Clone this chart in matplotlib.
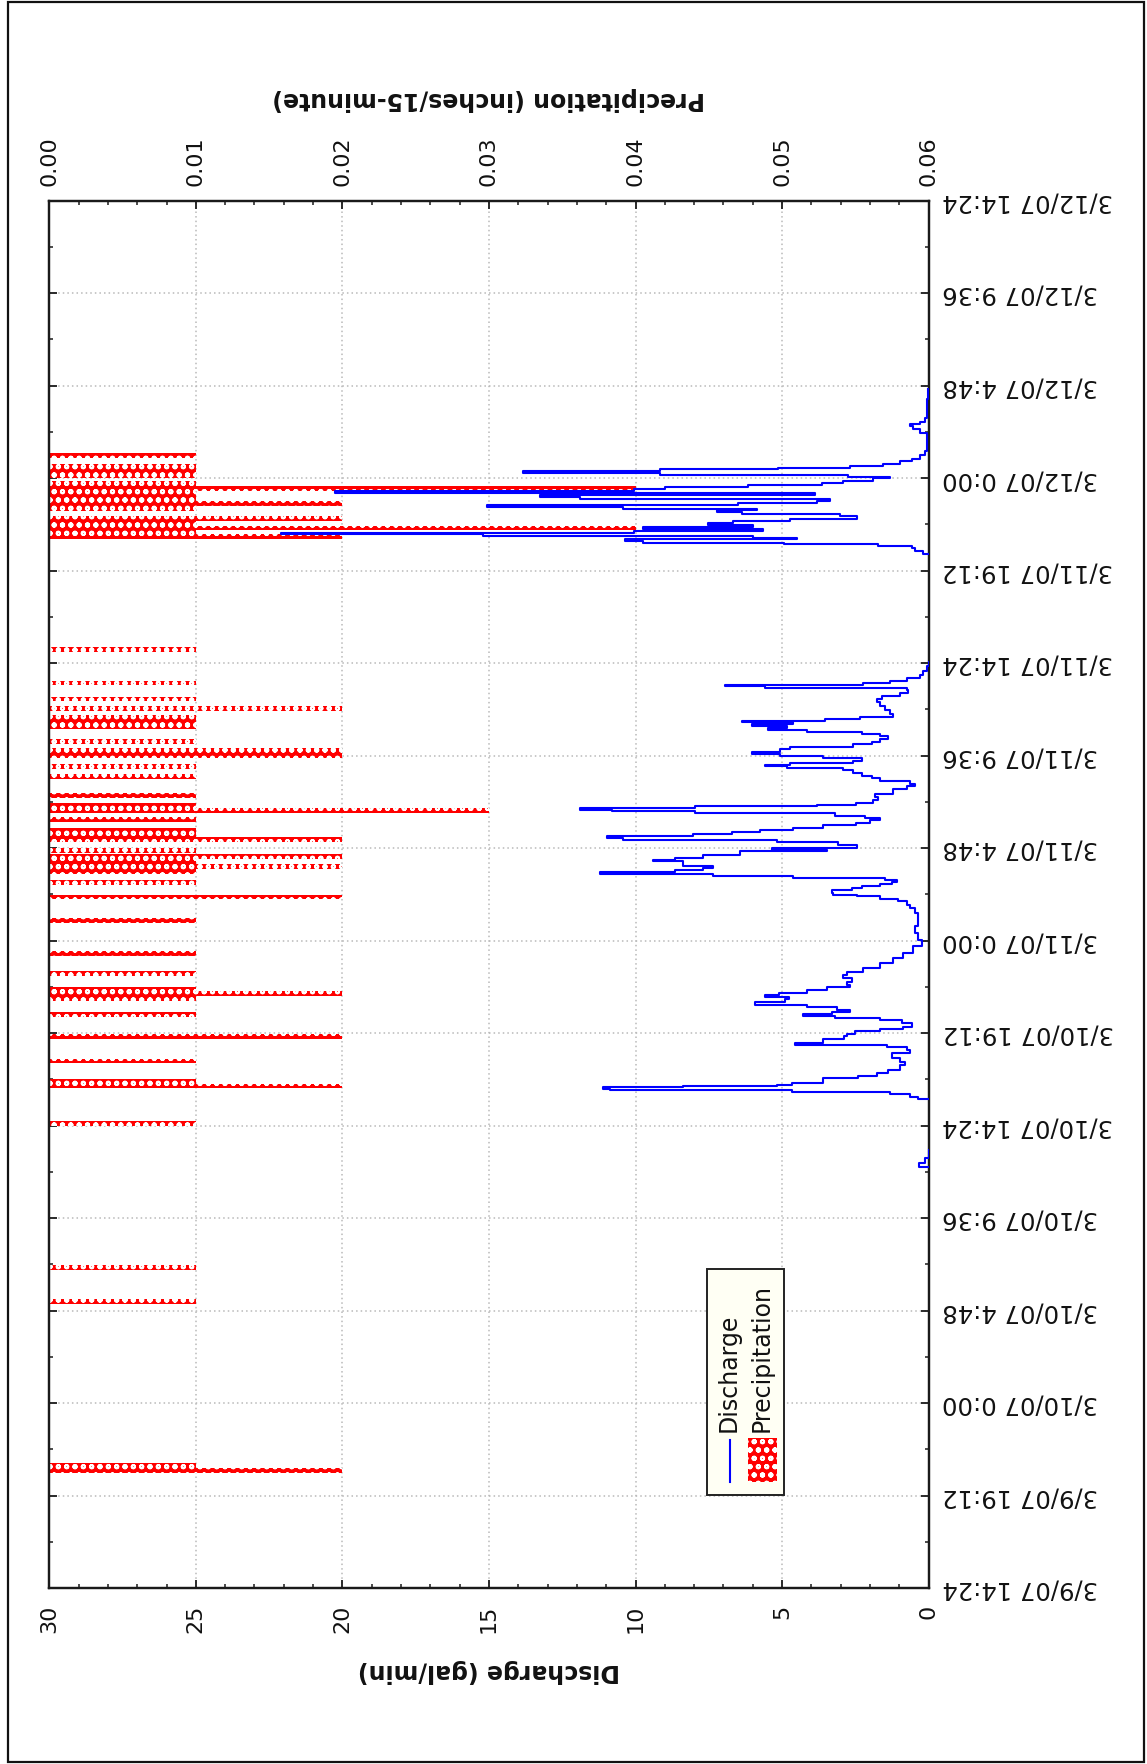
import matplotlib
matplotlib.use("Agg")
import matplotlib.pyplot as plt
from matplotlib.patches import Rectangle
from matplotlib.lines import Line2D
from matplotlib.ticker import MultipleLocator
import numpy as np

plt.rcParams['font.family'] = ['DejaVu Sans']
plt.rcParams['hatch.color'] = 'white'
plt.rcParams['hatch.linewidth'] = 1.4

# Time is expressed in hours after 3/9/07 14:24
time_tick_labels = ["3/9/07 14:24", "3/9/07 19:12", "3/10/07 0:00", "3/10/07 4:48",
                    "3/10/07 9:36", "3/10/07 14:24", "3/10/07 19:12", "3/11/07 0:00",
                    "3/11/07 4:48", "3/11/07 9:36", "3/11/07 14:24", "3/11/07 19:12",
                    "3/12/07 0:00", "3/12/07 4:48", "3/12/07 9:36", "3/12/07 14:24"]
precip_tick_labels = ["0.00", "0.01", "0.02", "0.03", "0.04", "0.05", "0.06"]
discharge_tick_labels = ["0", "5", "10", "15", "20", "25", "30"]

# 15-minute precipitation totals (inches)
precip_hours = [6.08, 6.35, 14.85, 16.63, 24.11, 26.05, 26.3, 27.35, 28.61, 29.78,
                30.58, 30.83, 31.08, 31.9, 32.94, 34.62, 35.86, 36.62,
                37.19, 37.45, 37.72, 37.98, 38.25, 38.85, 39.08, 39.3, 39.89,
                40.36, 40.62, 41.14, 42.13, 42.65, 43.2, 43.45, 43.92,
                44.7, 44.95, 45.2, 45.66, 46.13, 46.96, 48.7,
                54.55, 54.78, 55.01, 55.25, 55.48, 56.02, 56.28, 56.54, 56.8,
                57.05, 57.31, 57.7, 57.95, 58.2, 58.78]
precip_inches = [0.02, 0.01, 0.01, 0.01, 0.01, 0.02, 0.01, 0.01, 0.02, 0.01,
                 0.01, 0.02, 0.01, 0.01, 0.01, 0.01, 0.02, 0.01,
                 0.01, 0.02, 0.01, 0.02, 0.01, 0.02, 0.01, 0.01, 0.01,
                 0.03, 0.01, 0.01, 0.01, 0.01, 0.02, 0.02, 0.01,
                 0.01, 0.01, 0.01, 0.02, 0.01, 0.01, 0.01,
                 0.02, 0.01, 0.04, 0.01, 0.02, 0.01, 0.02, 0.01, 0.01,
                 0.04, 0.01, 0.01, 0.01, 0.01, 0.01]

# Discharge record (gal/min); None separates runs of the record
discharge_hours = [
    21.86, 22.04, 22.3, 22.73, None,
    25.36, 25.50, 25.64, 25.76, 25.85, 25.91, 25.98, 26.05, 26.10, 26.23, 26.45, 26.57,
    26.71, 26.88, 27.14, 27.32, 27.49, 27.75, 27.92, 28.06, 28.18, 28.30, 28.48, 28.62,
    28.75, 28.88, 29.00, 29.13, 29.31, 29.45, 29.57, 29.69, 29.79, 29.91, 30.00, 30.14,
    30.26, 30.43, 30.55, 30.69, 30.78, 30.90, 31.04, 31.18, 31.30, 31.47, 31.64, 31.82,
    31.99, 32.16, 32.42, 32.68, 32.94, 33.29, 33.63, 33.98, 34.33, 34.67, 35.02, 35.28,
    35.45, 35.63, 35.75, 35.89, 35.97, 36.09, 36.20, 36.30, 36.41, 36.51, 36.61, 36.75,
    36.84, 36.96, 37.06, 37.17, 37.24, 37.36, 37.48, 37.58, 37.70, 37.79, 37.89, 38.05,
    38.22, 38.31, 38.40, 38.57, 38.69, 38.83, 38.92, 39.00, 39.11, 39.21, 39.31, 39.44,
    39.57, 39.70, 39.83, 39.95, 40.08, 40.21, 40.30, 40.39, 40.47, 40.56, 40.63, 40.73,
    40.87, 41.05, 41.22, 41.34, 41.46, 41.60, 41.74, 41.88, 42.02, 42.15, 42.29, 42.43,
    42.55, 42.67, 42.73, 42.81, 42.93, 43.07, 43.19, 43.28, 43.40, 43.54, 43.66, 43.78,
    43.92, 44.06, 44.20, 44.30, 44.40, 44.51, 44.61, 44.72, 44.82, 44.92, 44.99, 45.10,
    45.22, 45.37, 45.58, 45.76, 45.96, 46.14, 46.31, 46.45, 46.59, 46.71, 46.79, 46.86,
    46.97, 47.09, 47.21, 47.40, 47.57, 47.83, 48.04, None,
    53.64, 53.81, 53.95, 54.07, 54.16, 54.25, 54.33, 54.42, 54.50, 54.59, 54.68, 54.75,
    54.85, 54.97, 55.06, 55.16, 55.28, 55.39, 55.49, 55.63, 55.73, 55.84, 55.94, 56.01,
    56.10, 56.18, 56.29, 56.41, 56.53, 56.64, 56.72, 56.83, 56.91, 57.02, 57.14, 57.24,
    57.34, 57.47, 57.59, 57.67, 57.76, 57.88, 57.97, 58.05, 58.14, 58.23, 58.35, 58.47,
    58.61, 58.78, 59.01, 59.44, 59.96, 60.13, 60.31, 60.39, 60.51, 60.69, 61.09, 61.69,
    62.21]
discharge_gpm = [
    0.0, 0.32, 0.12, 0.0, None,
    0.0, 0.35, 0.63, 1.32, 4.67, 10.87, 11.1, 8.37, 5.18, 4.67, 3.6, 2.4,
    1.77, 1.37, 0.98, 0.8, 0.98, 1.26, 0.63, 0.75, 1.43, 4.56, 3.6, 2.9,
    2.8, 2.5, 1.65, 0.86, 0.58, 0.92, 1.66, 3.2, 4.27, 3.3, 2.68, 3.14,
    4.16, 5.92, 4.9, 4.75, 5.58, 5.1, 4.16, 3.48, 2.68, 2.8, 2.63, 2.91,
    2.8, 2.23, 1.66, 1.2, 0.86, 0.52, 0.24, 0.35, 0.46, 0.35, 0.35, 0.46,
    0.63, 0.75, 1.03, 1.66, 2.45, 3.25, 3.31, 2.6, 2.28, 1.66, 1.26, 1.09,
    1.5, 4.62, 7.34, 11.21, 8.65, 7.69, 7.34, 8.37, 8.37, 9.39, 8.65, 7.7,
    6.43, 3.48, 5.35, 2.45, 3.08, 5.18, 10.42, 10.98, 8.03, 6.72, 5.75, 4.62,
    3.6, 2.46, 2.0, 1.66, 2.17, 3.19, 7.97, 10.81, 11.9, 7.97, 3.82, 2.46,
    1.89, 1.72, 1.83, 1.2, 1.2, 0.75, 0.46, 0.63, 1.66, 1.94, 2.28, 2.57,
    2.91, 4.84, 5.58, 4.73, 2.57, 2.28, 3.6, 5.07, 6.04, 5.07, 4.73, 2.57,
    1.94, 1.66, 1.37, 1.66, 2.28, 4.16, 5.47, 4.84, 6.04, 4.62, 6.38, 3.53,
    2.34, 1.2, 1.32, 1.49, 1.66, 1.77, 1.6, 0.98, 0.69, 0.75, 5.58, 6.95,
    2.23, 1.32, 0.75, 0.29, 0.18, 0.07, 0.0, None,
    0.0, 0.18, 0.46, 0.57, 1.71, 4.95, 9.73, 10.36, 4.5, 5.98, 15.19, 22.1,
    10.04, 5.64, 9.73, 5.98, 7.52, 6.66, 4.73, 2.45, 3.02, 6.38, 7.23, 5.87,
    10.42, 15.08, 6.49, 3.82, 3.37, 11.89, 13.26, 3.87, 20.25, 10.04, 8.99, 6.15,
    3.65, 2.91, 1.89, 1.32, 2.74, 9.16, 13.85, 9.16, 5.13, 2.68, 1.54, 0.98,
    0.58, 0.29, 0.12, 0.04, 0.04, 0.29, 0.52, 0.63, 0.29, 0.12, 0.07, 0.04,
    0.02]

W, H = 1147, 1765
fig = plt.figure(figsize=(W / 100, H / 100), dpi=100)
fig.patch.set_facecolor('white')

ax_left, ax_right, ax_top, ax_bottom = 49.3, 928.6, 201.5, 1589.0
ax = fig.add_axes([ax_left / W, 1 - ax_bottom / H,
                   (ax_right - ax_left) / W, (ax_bottom - ax_top) / H])
# Discharge lives on a twin axes that shares the time axis
ax2 = ax.twiny()

TEXT = '#111111'
SPINE = '#1a1a1a'

# Precipitation bars on the base axes (time runs upward)
ax.set_xlim(0, 0.06)
ax.set_ylim(0, 72)
ax.barh(precip_hours, precip_inches, height=0.25, left=0, color='#ff0000',
        edgecolor='white', linewidth=0, hatch='oo', zorder=2)
ax.set_axisbelow(True)
ax.grid(True, which='major', color='#b9b9b9', linestyle=(0, (1, 2)), linewidth=1.1)

ax.xaxis.tick_top()
ax.xaxis.set_label_position('top')
ax.set_xticks(np.arange(len(precip_tick_labels)) * 0.01)
ax.set_xticklabels(precip_tick_labels)
ax.xaxis.set_minor_locator(MultipleLocator(0.002))
ax.set_yticks(np.arange(len(time_tick_labels)) * 4.8)
ax.set_yticklabels(time_tick_labels)
ax.yaxis.set_minor_locator(MultipleLocator(2.4))

ax.tick_params(axis='x', which='both', top=True, bottom=False, labeltop=True,
               labelbottom=False, direction='in', color=SPINE, labelcolor=TEXT)
ax.tick_params(axis='x', which='major', length=6, width=1.3, labelsize=16,
               labelrotation=90, pad=11)
ax.tick_params(axis='x', which='minor', length=3, width=1.1)
ax.tick_params(axis='y', which='both', left=True, right=True, labelleft=False,
               labelright=True, direction='in', color=SPINE, labelcolor=TEXT)
ax.tick_params(axis='y', which='major', length=6, width=1.3, labelsize=17.5,
               labelrotation=180, pad=10)
ax.tick_params(axis='y', which='minor', length=3, width=1.1)
for lbl in ax.get_yticklabels():
    lbl.set_va('center')

ax.set_xlabel('Precipitation (inches/15-minute)', fontsize=17, fontweight='bold',
              rotation=180, color=TEXT)
ax.xaxis.label.set_va('center')
ax.xaxis.set_label_coords(0.5, (ax_bottom - 99) / (ax_bottom - ax_top))

# Discharge line
ax2.set_xlim(30, 0)
dh = np.array(discharge_hours, dtype=float)
dq = np.array(discharge_gpm, dtype=float)
ax2.plot(dq, dh, color='#0000ff', linewidth=1.5, zorder=3, drawstyle='steps-post')
ax2.xaxis.tick_bottom()
ax2.xaxis.set_label_position('bottom')
ax2.set_xticks(np.arange(len(discharge_tick_labels)) * 5)
ax2.set_xticklabels(discharge_tick_labels)
ax2.xaxis.set_minor_locator(MultipleLocator(1))
ax2.tick_params(axis='x', which='both', bottom=True, top=False, labelbottom=True,
                labeltop=False, direction='in', color=SPINE, labelcolor=TEXT)
ax2.tick_params(axis='x', which='major', length=6, width=1.3, labelsize=16,
                labelrotation=90, pad=11)
ax2.tick_params(axis='x', which='minor', length=3, width=1.1)
ax2.set_xlabel('Discharge (gal/min)', fontsize=17, fontweight='bold',
               rotation=180, color=TEXT)
ax2.xaxis.label.set_va('center')
ax2.xaxis.set_label_coords(0.5, (ax_bottom - 1671) / (ax_bottom - ax_top))

for a in (ax, ax2):
    for s in a.spines.values():
        s.set_color(SPINE)
        s.set_linewidth(1.6)


def fx(px):
    return px / W


def fy(py):
    return 1 - py / H


# Legend box
fig.add_artist(Rectangle((fx(707), fy(1496)), fx(784) - fx(707), fy(1270) - fy(1496),
                         transform=fig.transFigure, facecolor='#fffff4',
                         edgecolor='#222222', linewidth=1.4, zorder=5))
fig.add_artist(Line2D([fx(729.5), fx(729.5)], [fy(1483), fy(1441)],
                      transform=fig.transFigure, color='#0000ff', linewidth=1.5, zorder=6))
fig.add_artist(Rectangle((fx(748), fy(1483)), fx(777) - fx(748), fy(1439) - fy(1483),
                         transform=fig.transFigure, facecolor='#ff0000',
                         edgecolor='white', linewidth=0, hatch='oo', zorder=6))
fig.text(fx(729), fy(1432), 'Discharge', rotation=90, ha='center', va='bottom',
         fontsize=17, color=TEXT, zorder=7)
fig.text(fx(762), fy(1432), 'Precipitation', rotation=90, ha='center', va='bottom',
         fontsize=17, color=TEXT, zorder=7)

# Outer frame
fig.add_artist(Rectangle((fx(8), fy(1763)), fx(1144) - fx(8), fy(3) - fy(1763),
                         transform=fig.transFigure, fill=False,
                         edgecolor='#111111', linewidth=1.6, zorder=8))

fig.savefig('out.png', dpi=100)
